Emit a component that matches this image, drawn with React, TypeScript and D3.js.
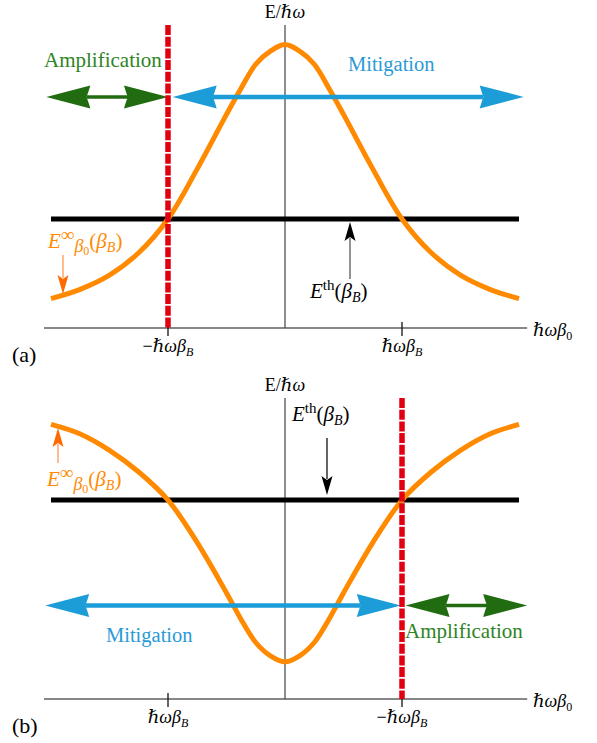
import React from "react";
import * as d3 from "d3";

// Sampled detuning values (units of ħωβ_B) and the two energy profiles.
const BETA_GRID = [-2, -1.75, -1.5, -1.25, -1, -0.75, -0.5, -0.375, -0.25, -0.125, 0, 0.125, 0.25, 0.375, 0.5, 0.75, 1, 1.25, 1.5, 1.75, 2];
// Panel (a): bell-shaped E^∞ (units of the threshold energy)
const ENERGY_A = [0.27, 0.355, 0.485, 0.69, 1.0, 1.46, 1.96, 2.2, 2.42, 2.54, 2.6, 2.54, 2.42, 2.2, 1.96, 1.46, 1.0, 0.69, 0.485, 0.355, 0.27];
// Panel (b): inverted profile
const ENERGY_B = [1.38, 1.332, 1.25, 1.141, 1.0, 0.786, 0.533, 0.4, 0.284, 0.217, 0.187, 0.217, 0.284, 0.4, 0.533, 0.786, 1.0, 1.141, 1.25, 1.332, 1.38];
const THRESHOLD = 1;

// Tick positions and their sign prefixes
const TICK_VALUES = [-1, 1];
const TICK_SIGNS_A = ["−", ""];
const TICK_SIGNS_B = ["", "−"];

// Region arrows: [start, end] in β units and the level they sit at
const AMPLIFICATION_A = [-2.04, -1.0];
const MITIGATION_A = [-0.96, 2.04];
const ARROW_LEVEL_A = 2.12;
const MITIGATION_B = [-2.05, 0.99];
const AMPLIFICATION_B = [1.03, 2.07];
const ARROW_LEVEL_B = 0.47;

// Critical detuning marked by the dashed line
const CRITICAL_A = -1;
const CRITICAL_B = 1;

const W = 597;
const H = 743;
const SERIF = "Liberation Serif, DejaVu Serif, serif";
const ORANGE = "#ff8a00";
const GREEN = "#216b10";
const GREEN_TEXT = "#2f8424";
const BLUE = "#1c9dd8";
const BLUE_TEXT = "#2a9ad6";
const RED = "#e00010";

const xScale = d3.scaleLinear().domain([-2, 2]).range([51, 519]);

const serif = (size: number, extra: React.CSSProperties = {}): React.CSSProperties => ({
  fontFamily: SERIF,
  fontSize: size,
  ...extra,
});

function BigArrow({ x1, x2, y, color, shaft }: { x1: number; x2: number; y: number; color: string; shaft: number }) {
  const L = 44;
  const Wd = 11.5;
  const n = 4;
  const head = (xt: number, dir: number) =>
    `M${xt},${y} L${xt - dir * L},${y - Wd} Q${xt - dir * (L - n * 0.6)},${y - 3} ${xt - dir * (L - n)},${y} Q${xt - dir * (L - n * 0.6)},${y + 3} ${xt - dir * L},${y + Wd} Z`;
  return (
    <g>
      <line x1={x1 + L - n} x2={x2 - (L - n)} y1={y} y2={y} stroke={color} strokeWidth={shaft} />
      <path d={head(x1, -1)} fill={color} />
      <path d={head(x2, 1)} fill={color} />
    </g>
  );
}

function SmallArrow({ x, y1, y2, shaftColor, headColor }: { x: number; y1: number; y2: number; shaftColor: string; headColor: string }) {
  // y2 is the tip
  const dir = y2 > y1 ? 1 : -1;
  const L = 19;
  const hw = 5.5;
  return (
    <g>
      <line x1={x} x2={x} y1={y1} y2={y2 - dir * (L - 3)} stroke={shaftColor} strokeWidth={1.4} />
      <path
        d={`M${x},${y2} L${x - hw},${y2 - dir * L} L${x},${y2 - dir * (L - 4)} L${x + hw},${y2 - dir * L} Z`}
        fill={headColor}
      />
    </g>
  );
}

function EInfLabel({ x, y }: { x: number; y: number }) {
  return (
    <text x={x} y={y} fill={ORANGE} style={serif(21)}>
      <tspan style={{ fontStyle: "italic" }}>E</tspan>
      <tspan dy={-7} style={{ fontSize: 19 }}>∞</tspan>
      <tspan dy={11} style={{ fontSize: 18, fontStyle: "italic" }}>β</tspan>
      <tspan dy={3} style={{ fontSize: 12 }}>0</tspan>
      <tspan dy={-7}>(</tspan>
      <tspan style={{ fontStyle: "italic" }}>β</tspan>
      <tspan dy={4} style={{ fontSize: 14, fontStyle: "italic" }}>B</tspan>
      <tspan dy={-4}>)</tspan>
    </text>
  );
}

function EthLabel({ x, y }: { x: number; y: number }) {
  return (
    <text x={x} y={y} fill="#000" style={serif(21)}>
      <tspan style={{ fontStyle: "italic" }}>E</tspan>
      <tspan dy={-8} style={{ fontSize: 15 }}>th</tspan>
      <tspan dy={8}>(</tspan>
      <tspan style={{ fontStyle: "italic" }}>β</tspan>
      <tspan dy={4} style={{ fontSize: 14, fontStyle: "italic" }}>B</tspan>
      <tspan dy={-4}>)</tspan>
    </text>
  );
}

type PanelProps = {
  axisY: number;
  topY: number;
  yMax: number;
  energy: number[];
  signs: string[];
  critical: number;
  amp: number[];
  mit: number[];
  arrowLevel: number;
  tag: string;
};

function Panel({ axisY, topY, yMax, energy, signs, critical, amp, mit, arrowLevel, tag }: PanelProps) {
  const yScale = d3.scaleLinear().domain([0, yMax]).range([axisY, topY]);
  const line = d3
    .line<number>()
    .x((_, i) => xScale(BETA_GRID[i]))
    .y((d) => yScale(d))
    .curve(d3.curveCatmullRom.alpha(0.5));
  const cx = xScale(0);
  const ay = yScale(arrowLevel);
  return (
    <g>
      {/* axes */}
      <line x1={xScale(-2.06)} x2={xScale(2.07)} y1={axisY} y2={axisY} stroke="#111" strokeWidth={1.2} />
      <line x1={cx} x2={cx} y1={topY} y2={axisY} stroke="#444" strokeWidth={1.2} />
      {TICK_VALUES.map((v, i) => (
        <g key={v}>
          <line x1={xScale(v)} x2={xScale(v)} y1={axisY - 6} y2={axisY + 8} stroke="#111" strokeWidth={1.3} />
          <text x={xScale(v)} y={axisY + 24} textAnchor="middle" style={serif(18)}>
            {signs[i]}
            <tspan style={{ fontStyle: "italic" }}>ℏωβ</tspan>
            <tspan dy={4} style={{ fontSize: 12, fontStyle: "italic" }}>B</tspan>
          </text>
        </g>
      ))}
      <text x={533} y={axisY + 8} style={serif(18)}>
        <tspan style={{ fontStyle: "italic" }}>ℏωβ</tspan>
        <tspan dy={4} style={{ fontSize: 12 }}>0</tspan>
      </text>
      <text x={cx} y={topY - 7} textAnchor="middle" style={serif(18)}>
        E/<tspan style={{ fontStyle: "italic" }}>ℏω</tspan>
      </text>
      <text x={12} y={axisY + 34} style={serif(22)}>
        {tag}
      </text>

      {/* threshold */}
      <line x1={xScale(-2)} x2={xScale(2)} y1={yScale(THRESHOLD)} y2={yScale(THRESHOLD)} stroke="#000" strokeWidth={5} />
      {/* energy profile */}
      <path d={line(energy) ?? ""} fill="none" stroke={ORANGE} strokeWidth={5} />

      {/* regions */}
      <BigArrow x1={xScale(amp[0])} x2={xScale(amp[1])} y={ay} color={GREEN} shaft={3.5} />
      <BigArrow x1={xScale(mit[0])} x2={xScale(mit[1])} y={ay} color={BLUE} shaft={4.5} />

      {/* critical line */}
      <line
        x1={xScale(critical)}
        x2={xScale(critical)}
        y1={topY}
        y2={axisY}
        stroke={RED}
        strokeWidth={5.5}
        strokeDasharray="10,1.7"
      />
    </g>
  );
}

export default function App() {
  return (
    <svg width={W} height={H} style={{ position: "absolute", left: 0, top: 0, background: "#fff" }}>
      <rect width={W} height={H} fill="#fff" />
      <Panel
        axisY={328}
        topY={25}
        yMax={2.78}
        energy={ENERGY_A}
        signs={TICK_SIGNS_A}
        critical={CRITICAL_A}
        amp={AMPLIFICATION_A}
        mit={MITIGATION_A}
        arrowLevel={ARROW_LEVEL_A}
        tag="(a)"
      />
      <Panel
        axisY={699}
        topY={398}
        yMax={1.513}
        energy={ENERGY_B}
        signs={TICK_SIGNS_B}
        critical={CRITICAL_B}
        amp={AMPLIFICATION_B}
        mit={MITIGATION_B}
        arrowLevel={ARROW_LEVEL_B}
        tag="(b)"
      />

      {/* panel (a) annotations */}
      <text x={44} y={67} fill={GREEN_TEXT} style={serif(21)}>Amplification</text>
      <text x={348} y={71} fill={BLUE_TEXT} style={serif(20.5)}>Mitigation</text>
      <EInfLabel x={48} y={248} />
      <SmallArrow x={63} y1={255} y2={294} shaftColor="#ffa060" headColor="#ff6a00" />
      <EthLabel x={310} y={298} />
      <SmallArrow x={350} y1={279} y2={222} shaftColor="#666" headColor="#000" />

      {/* panel (b) annotations */}
      <text x={106} y={642} fill={BLUE_TEXT} style={serif(20.5)}>Mitigation</text>
      <text x={405} y={638} fill={GREEN_TEXT} style={serif(21)}>Amplification</text>
      <EInfLabel x={47} y={486} />
      <SmallArrow x={58} y1={463} y2={428} shaftColor="#ffa060" headColor="#ff6a00" />
      <EthLabel x={292} y={421} />
      <SmallArrow x={327} y1={438} y2={495} shaftColor="#222" headColor="#000" />
    </svg>
  );
}
